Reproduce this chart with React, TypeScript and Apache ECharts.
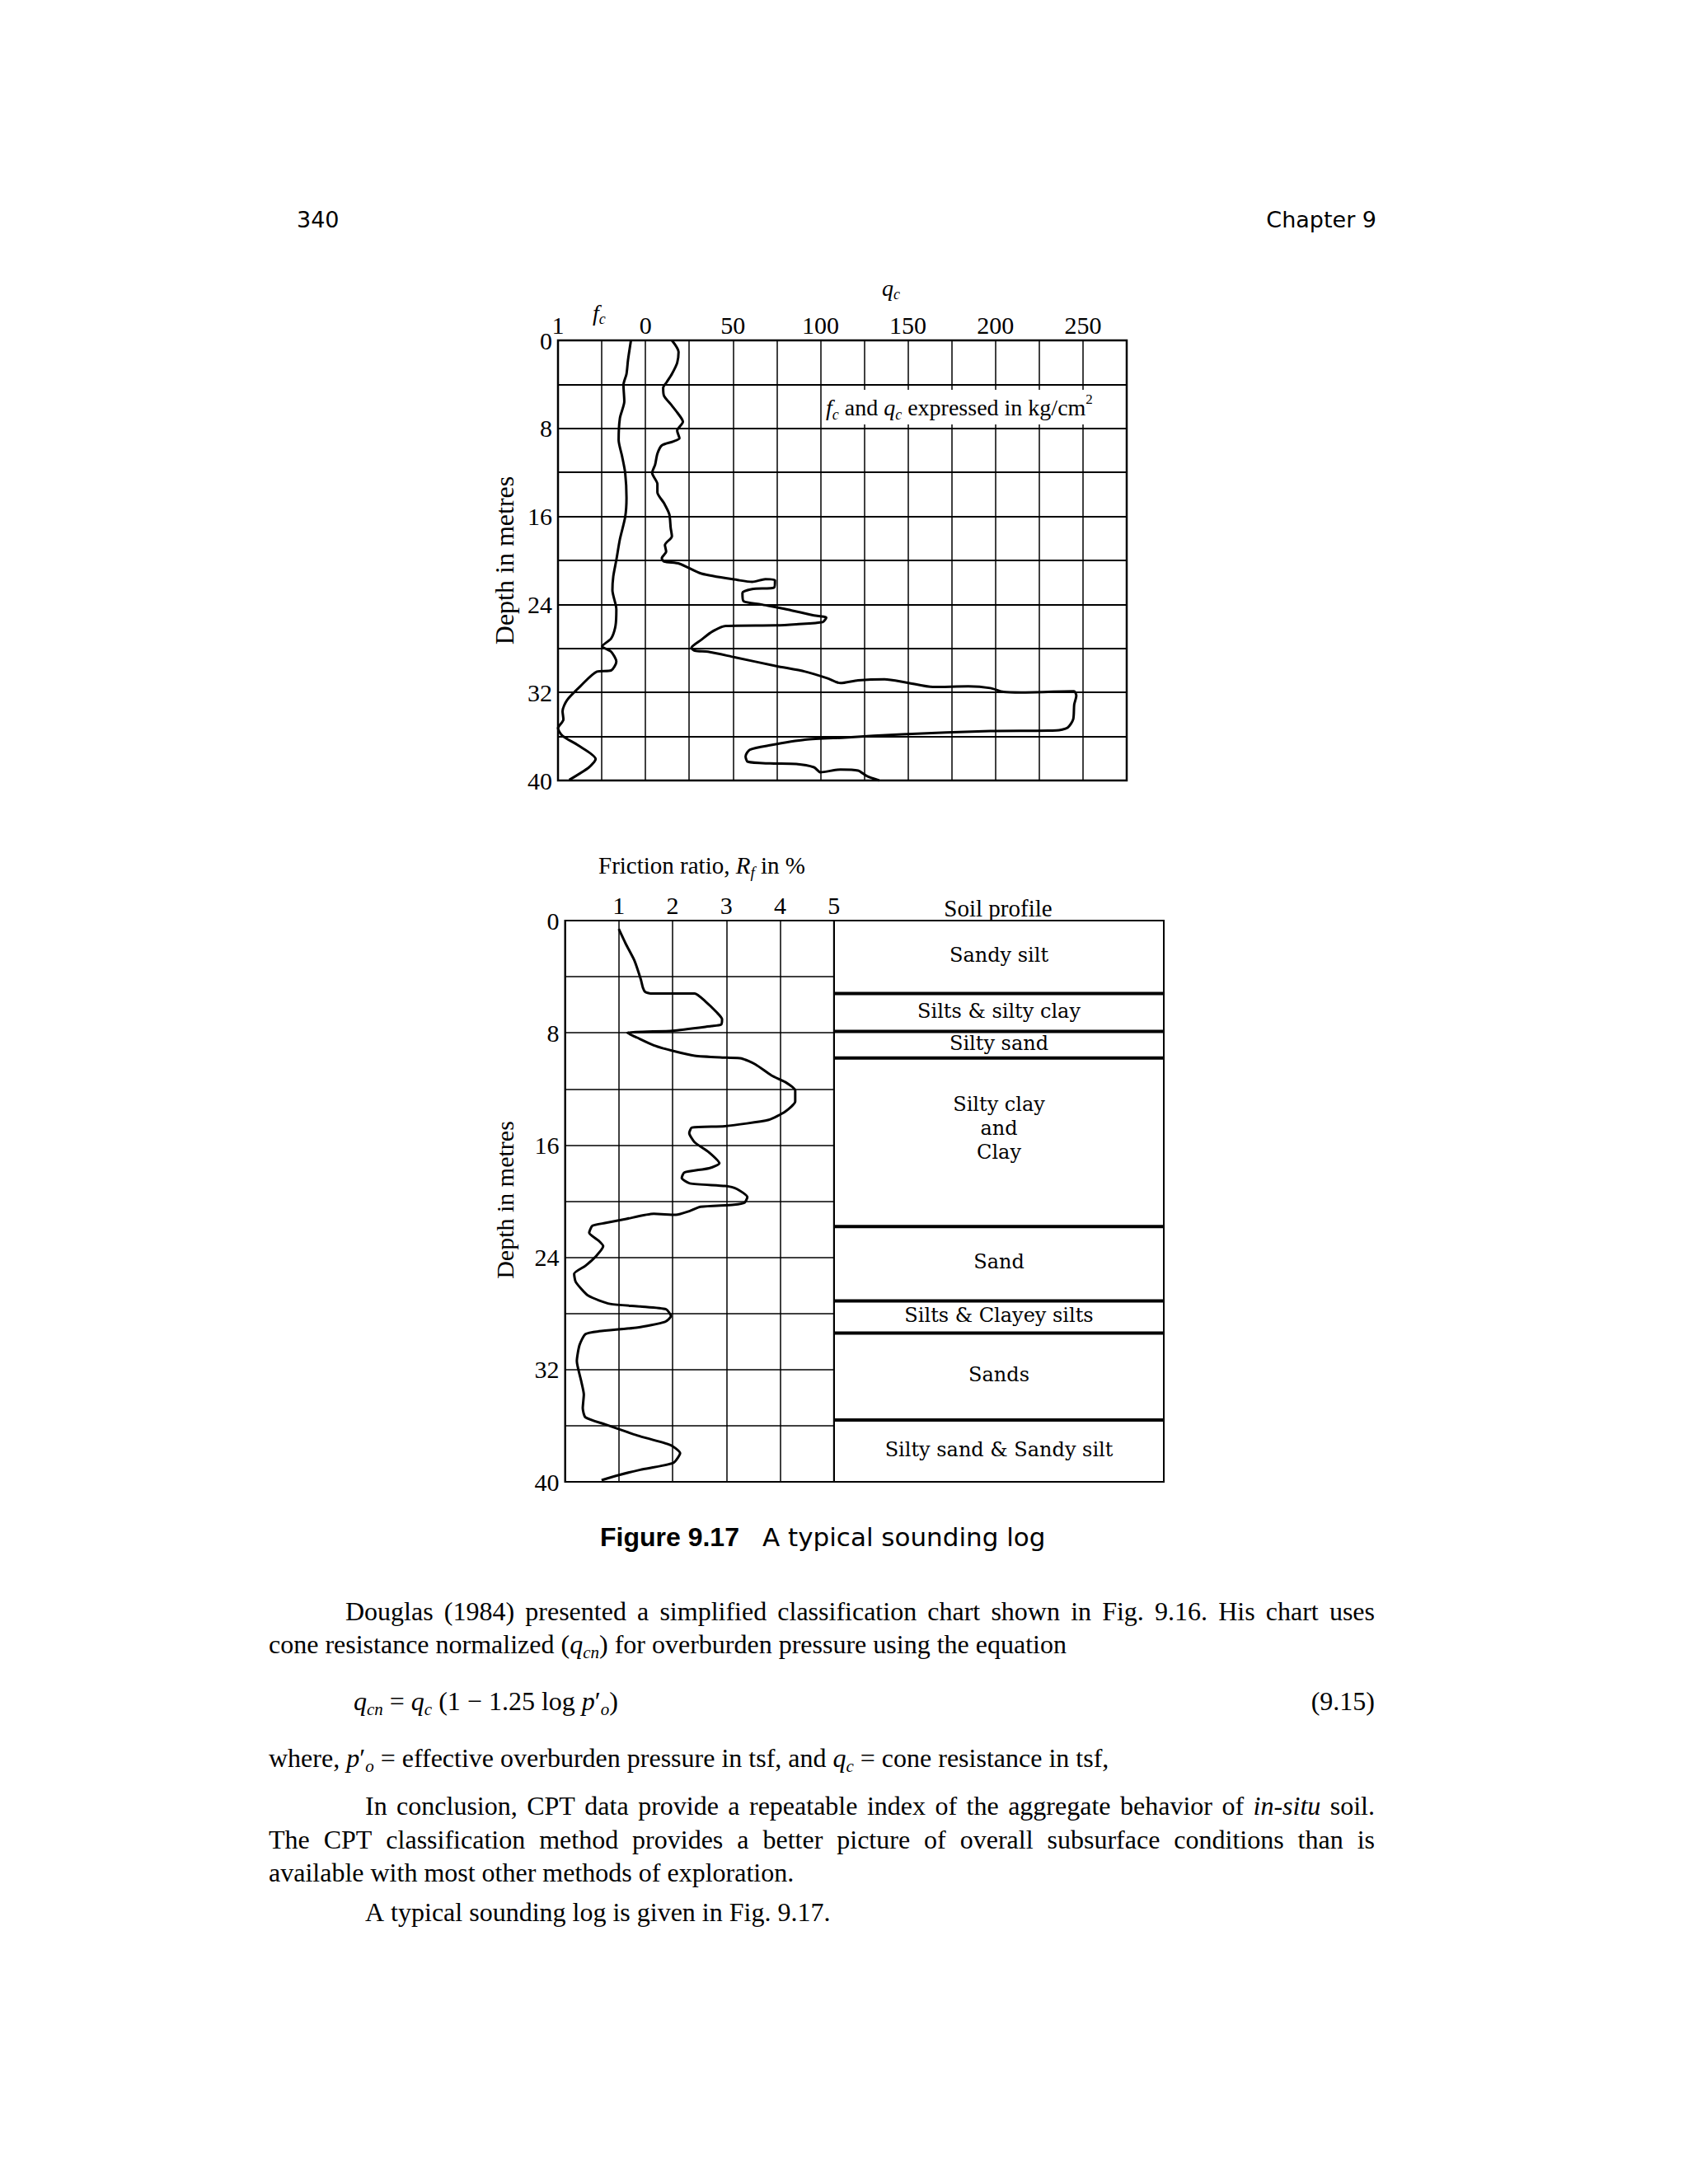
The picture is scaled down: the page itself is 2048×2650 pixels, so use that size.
import React, { useEffect, useRef } from "react";
import * as echarts from "echarts";

// ---------- data ----------
const depthLabels = [0, 8, 16, 24, 32, 40];
const qcLabels = [0, 50, 100, 150, 200, 250];
const fcLabels = [1];
const rfLabels = [1, 2, 3, 4, 5];

const qcDepth = [0, 1.05, 2.05, 3.05, 3.8, 4.3, 5.05, 5.8, 6.55, 7.4, 8.2, 8.9, 9.2, 9.55, 10.3, 11.3, 12.05, 13.05, 13.8, 14.8, 15.8, 17.05, 17.8, 18.6, 19.2, 19.8, 20.1, 20.3, 21.2, 21.8, 21.95, 21.7, 21.8, 22.45, 22.6, 22.95, 23.7, 24.0, 24.45, 25, 25.2, 25.6, 25.8, 25.9, 25.95, 26.45, 27.2, 27.95, 28.2, 28.3, 28.8, 29.6, 30.1, 30.7, 31.15, 30.9, 30.8, 31.1, 31.5, 31.45, 31.6, 31.95, 32, 31.9, 32.3, 33.1, 34.45, 35.2, 35.45, 35.5, 35.8, 36.1, 36.3, 36.8, 37.2, 37.8, 38.3, 38.45, 38.5, 38.8, 39.25, 39.0, 39.1, 39.6, 40];
const qcValue = [15.1, 18.9, 18.1, 15.1, 12.1, 10.1, 10.6, 14.4, 18.1, 21.4, 18.1, 19.4, 15.6, 9.3, 6.8, 5.5, 3.8, 6.8, 6.8, 10.6, 13.6, 14.4, 15.1, 11.1, 11.8, 9.3, 10.6, 19.4, 32, 53.4, 61, 68.5, 74, 73.6, 61, 55.4, 56, 66, 81, 96.3, 103.3, 101.3, 86.2, 74.3, 45.9, 38.3, 32, 26.2, 28.2, 35.8, 50.9, 74.8, 91.2, 103.8, 111.4, 121.5, 136.6, 149.2, 164.3, 184.5, 197, 204.6, 214.7, 244.9, 246.2, 245, 244.4, 241.2, 234.9, 197, 146.7, 113.9, 91.2, 71.1, 59.7, 57.2, 58.5, 71.1, 86.2, 96.3, 100, 111.4, 121.5, 126.5, 133.6];

const fcDepth = [0, 1.8, 3.05, 4.05, 5.55, 7.05, 9.05, 10.55, 12.05, 14.3, 16.05, 18.05, 19.95, 21.45, 22.7, 24.45, 25.95, 27.1, 27.8, 28.3, 29.2, 30, 30.1, 31.45, 32.7, 33.7, 34.45, 35.25, 35.95, 36.8, 38.05, 38.8, 39.95];
const fcValue = [0.166, 0.2, 0.217, 0.252, 0.242, 0.292, 0.307, 0.267, 0.232, 0.217, 0.232, 0.292, 0.333, 0.368, 0.378, 0.333, 0.343, 0.393, 0.494, 0.393, 0.333, 0.393, 0.554, 0.746, 0.897, 0.948, 0.938, 1.0, 0.948, 0.771, 0.57, 0.645, 0.872];

const rfDepth = [0.6, 1.66, 2.84, 4.2, 4.8, 5.08, 5.2, 5.2, 5.76, 6.54, 7.03, 7.42, 7.52, 7.85, 8.0, 8.34, 8.89, 9.28, 9.63, 9.77, 9.82, 10.25, 11.04, 11.52, 12.1, 12.9, 13.6, 14.2, 14.65, 14.75, 15.14, 15.8, 16.5, 17.3, 17.65, 17.95, 18.34, 18.73, 18.92, 19.12, 19.7, 20.1, 20.25, 20.4, 20.7, 20.97, 20.9, 21.26, 21.56, 21.75, 22.24, 22.83, 23.2, 23.9, 24.6, 25.17, 25.76, 26.73, 27.32, 27.5, 27.7, 28.2, 28.6, 29, 29.27, 29.47, 30.25, 31.4, 32.8, 33.77, 34.75, 35.4, 35.9, 36.7, 37.38, 37.96, 38.65, 39.14, 39.53, 39.88];
const rfValue = [1.0, 1.13, 1.29, 1.41, 1.45, 1.49, 1.59, 2.41, 2.61, 2.82, 2.92, 2.9, 2.72, 2.0, 1.16, 1.34, 1.65, 2.0, 2.41, 3.0, 3.28, 3.54, 3.84, 4.1, 4.28, 4.28, 4.1, 3.79, 2.97, 2.36, 2.31, 2.41, 2.67, 2.87, 2.68, 2.22, 2.17, 2.32, 2.98, 3.19, 3.39, 3.34, 3.14, 2.52, 2.32, 2.06, 1.65, 1.14, 0.74, 0.51, 0.45, 0.63, 0.71, 0.58, 0.38, 0.17, 0.2, 0.43, 0.84, 1.4, 1.88, 1.97, 1.86, 1.35, 0.63, 0.38, 0.27, 0.22, 0.3, 0.35, 0.33, 0.38, 0.74, 1.35, 1.96, 2.14, 2.01, 1.4, 0.99, 0.68];

const soilTop = [0, 5.2, 7.9, 9.8, 21.8, 27.1, 29.4, 35.6];
const soilBottom = [5.2, 7.9, 9.8, 21.8, 27.1, 29.4, 35.6, 40];
const soilNames = ["Sandy silt", "Silts & silty clay", "Silty sand", "Silty clay\nand\nClay", "Sand", "Silts & Clayey silts", "Sands", "Silty sand & Sandy silt"];

const bodyLines = [
  "Douglas (1984) presented a simplified classification chart shown in Fig. 9.16. His chart uses",
  "cone resistance normalized ({i|q}{s|cn}) for overburden pressure using the equation",
  "where, {i|p}′{s|o} = effective overburden pressure in tsf, and {i|q}{s|c} = cone resistance in tsf,",
  "In conclusion, CPT data provide a repeatable index of the aggregate behavior of {i|in-situ} soil.",
  "The CPT classification method provides a better picture of overall subsurface conditions than  is",
  "available with most other methods of exploration.",
  "A typical sounding log is given in Fig. 9.17.",
];
const equationText = "{i|q}{s|cn} = {i|q}{s|c} (1 − 1.25 log {i|p}′{s|o})";

// ---------- styles / layout ----------
const SERIF = '"Liberation Serif", "Times New Roman", serif';
const BODY = 32;
const LH = 40;

const ctx = document.createElement("canvas").getContext("2d") as CanvasRenderingContext2D;
function segs(word: string): [string, string][] {
  const out: [string, string][] = [];
  const re = /\{(\w+)\|([^}]*)\}|([^{]+)/g;
  let m: RegExpExecArray | null;
  while ((m = re.exec(word))) {
    if (m[3] !== undefined) out.push(["n", m[3]]);
    else out.push([m[1], m[2]]);
  }
  return out;
}
function fontFor(k: string, size: number) {
  if (k === "i") return `italic ${size}px ${SERIF}`;
  if (k === "s") return `italic ${Math.round(size * 0.65)}px ${SERIF}`;
  return `${size}px ${SERIF}`;
}
function wordWidth(word: string, size: number) {
  return segs(word).reduce((a, [k, t]) => {
    ctx.font = fontFor(k, size);
    return a + ctx.measureText(t).width;
  }, 0);
}
function richFor(size: number, lh: number) {
  return {
    i: { fontFamily: SERIF, fontSize: size, fontStyle: "italic", lineHeight: lh, fill: "#000" },
    s: { fontFamily: SERIF, fontSize: Math.round(size * 0.65), fontStyle: "italic", lineHeight: Math.round(lh * 0.55), verticalAlign: "bottom", fill: "#000" },
    p: { fontFamily: SERIF, fontSize: Math.round(size * 0.62), lineHeight: Math.round(lh * 0.33), verticalAlign: "top", fill: "#000" },
  };
}
function lineEls(line: string, x0: number, x1: number | null, y: number) {
  const words = line.split(" ").filter((w) => w.length);
  const widths = words.map((w) => wordWidth(w, BODY));
  ctx.font = fontFor("n", BODY);
  const sp = ctx.measureText(" ").width;
  const total = widths.reduce((a, b) => a + b, 0);
  const gap = x1 == null ? sp : (x1 - x0 - total) / (words.length - 1);
  let x = x0;
  return words.map((w, i) => {
    const el = {
      type: "text", x, y, silent: true, z: 50,
      style: { text: w, font: fontFor("n", BODY), fill: "#000", align: "left", verticalAlign: "middle", lineHeight: LH, rich: richFor(BODY, LH) },
    };
    x += widths[i] + gap;
    return el;
  });
}
function txt(x: number, y: number, text: string, font: string, extra: any = {}, el: any = {}) {
  return { type: "text", x, y, silent: true, z: 50, ...el, style: { text, font, fill: "#000", align: "left", verticalAlign: "middle", ...extra } };
}

export default function App() {
  const ref = useRef<HTMLDivElement>(null);
  useEffect(() => {
    document.body.style.margin = "0";
    const chart = echarts.init(ref.current as HTMLDivElement, null, { renderer: "svg" });

    const lbl = { fontFamily: SERIF, fontSize: 30, color: "#000" };
    const graphics: any[] = [
      txt(360, 266, "340", '27px "DejaVu Sans"'),
      txt(1670, 266, "Chapter 9", '27px "DejaVu Sans"', { align: "right" }),
      // top chart headers
      txt(719, 379, "{i|f}{s|c}", `28px ${SERIF}`, { lineHeight: 34, rich: richFor(28, 34) }),
      txt(1070, 349, "{i|q}{s|c}", `28px ${SERIF}`, { lineHeight: 34, rich: richFor(28, 34) }),
      txt(999, 494, "{i|f}{s|c} and {i|q}{s|c} expressed in kg/cm{p|2}", `28px ${SERIF}`, { lineHeight: 36, rich: richFor(28, 36), backgroundColor: "#fff", padding: [3, 3, 3, 3] }, { z: 100 }),
      txt(612, 680, "Depth in metres", `32px ${SERIF}`, { align: "center" }, { rotation: Math.PI / 2 }),
      // bottom chart headers
      txt(726, 1050, "Friction ratio, {i|R}{s|f} in %", `29px ${SERIF}`, { lineHeight: 36, rich: richFor(29, 36) }),
      txt(1211, 1102, "Soil profile", `29px ${SERIF}`, { align: "center" }),
      txt(612, 1456, "Depth in metres", `30px ${SERIF}`, { align: "center" }, { rotation: Math.PI / 2 }),
      // caption
      txt(728, 1865, "Figure 9.17", 'bold 32px "Liberation Sans"'),
      txt(925, 1865, "A typical sounding log", '31px "DejaVu Sans"'),
      // body
      ...lineEls(bodyLines[0], 419, 1668, 1955),
      ...lineEls(bodyLines[1], 326, null, 1995),
      txt(429, 2064, equationText, `${BODY}px ${SERIF}`, { lineHeight: LH, rich: richFor(BODY, LH) }),
      txt(1668, 2064, "(9.15)", `${BODY}px ${SERIF}`, { align: "right" }),
      ...lineEls(bodyLines[2], 326, null, 2133),
      ...lineEls(bodyLines[3], 443, 1668, 2191),
      ...lineEls(bodyLines[4], 326, 1668, 2232),
      ...lineEls(bodyLines[5], 326, null, 2272),
      ...lineEls(bodyLines[6], 443, null, 2320),
    ];

    const option: any = {
      animation: false,
      backgroundColor: "#fff",
      textStyle: { fontFamily: SERIF },
      grid: [
        { left: 677, top: 413, width: 690, height: 534, show: true, borderColor: "#000", borderWidth: 2.5 },
        { left: 685.5, top: 1117, width: 326.3, height: 681, show: true, borderColor: "#000", borderWidth: 2 },
        { left: 1012, top: 1117, width: 400, height: 681, show: false },
      ],
      xAxis: [
        {
          type: "value", gridIndex: 0, position: "top", min: -50, max: 275, interval: 25,
          axisLine: { show: false }, axisTick: { show: false },
          splitLine: { show: true, lineStyle: { color: "#000", width: 1.5 } },
          axisLabel: { ...lbl, margin: 4, formatter: (v: number) => (qcLabels.includes(v) ? String(v) : "") },
        },
        {
          type: "value", gridIndex: 0, position: "top", min: -5.5, max: 1, interval: 0.5, inverse: true,
          axisLine: { show: false }, axisTick: { show: false }, splitLine: { show: false },
          axisLabel: { ...lbl, margin: 4, showMaxLabel: true, showMinLabel: true, formatter: (v: number) => (fcLabels.includes(v) ? String(v) : "") },
        },
        {
          type: "value", gridIndex: 1, position: "top", min: 0, max: 5, interval: 1,
          axisLine: { show: false }, axisTick: { show: false },
          splitLine: { show: true, lineStyle: { color: "#000", width: 1.5 } },
          axisLabel: { ...lbl, margin: 4, showMaxLabel: true, formatter: (v: number) => (rfLabels.includes(v) ? String(v) : "") },
        },
        { type: "value", gridIndex: 2, min: 0, max: 1, show: false },
      ],
      yAxis: [
        {
          type: "value", gridIndex: 0, min: 0, max: 40, interval: 4, inverse: true,
          axisLine: { show: false }, axisTick: { show: false },
          splitLine: { show: true, lineStyle: { color: "#000", width: 2.2 } },
          axisLabel: { ...lbl, margin: 7, showMinLabel: true, showMaxLabel: true, formatter: (v: number) => (depthLabels.includes(v) ? String(v) : "") },
        },
        {
          type: "value", gridIndex: 1, min: 0, max: 40, interval: 4, inverse: true,
          axisLine: { show: false }, axisTick: { show: false },
          splitLine: { show: true, lineStyle: { color: "#000", width: 1.5 } },
          axisLabel: { ...lbl, margin: 7, showMinLabel: true, showMaxLabel: true, formatter: (v: number) => (depthLabels.includes(v) ? String(v) : "") },
        },
        { type: "value", gridIndex: 2, min: 0, max: 40, inverse: true, show: false },
      ],
      series: [
        {
          type: "line", name: "qc", xAxisIndex: 0, yAxisIndex: 0, symbol: "none", smooth: 0.25,
          lineStyle: { color: "#000", width: 3 },
          data: qcValue.map((v, i) => [v, qcDepth[i]]),
        },
        {
          type: "line", name: "fc", xAxisIndex: 1, yAxisIndex: 0, symbol: "none", smooth: 0.25,
          lineStyle: { color: "#000", width: 3 },
          data: fcValue.map((v, i) => [v, fcDepth[i]]),
        },
        {
          type: "line", name: "Rf", xAxisIndex: 2, yAxisIndex: 1, symbol: "none", smooth: 0.2,
          lineStyle: { color: "#000", width: 3 },
          data: rfValue.map((v, i) => [v, rfDepth[i]]),
        },
        {
          type: "custom", name: "Soil profile", xAxisIndex: 3, yAxisIndex: 2,
          data: soilTop.map((t, i) => [t, soilBottom[i]]),
          renderItem: (params: any, api: any) => {
            const top = api.value(0);
            const bot = api.value(1);
            const p0 = api.coord([0, top]);
            const p1 = api.coord([1, bot]);
            const name = soilNames[params.dataIndex];
            const multi = name.indexOf("\n") >= 0;
            const children: any[] = [
              { type: "rect", shape: { x: p0[0], y: p0[1], width: p1[0] - p0[0], height: p1[1] - p0[1] }, style: { fill: "#fff", stroke: "#000", lineWidth: 2 } },
              {
                type: "text", x: (p0[0] + p1[0]) / 2, y: multi ? p0[1] + 42 : (p0[1] + p1[1]) / 2 - 2,
                style: { text: name, font: '24px "DejaVu Serif"', fill: "#000", align: "center", verticalAlign: multi ? "top" : "middle", lineHeight: 29 },
              },
            ];
            if (params.dataIndex > 0) {
              children.push({ type: "line", shape: { x1: p0[0], y1: p0[1], x2: p1[0], y2: p0[1] }, style: { stroke: "#000", lineWidth: 4 } });
            }
            return { type: "group", children };
          },
        },
      ],
      graphic: graphics,
    };
    chart.setOption(option);
    return () => chart.dispose();
  }, []);
  return <div ref={ref} style={{ width: 2048, height: 2650 }} />;
}
